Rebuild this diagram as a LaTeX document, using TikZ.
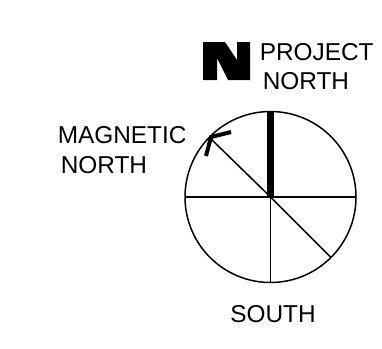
\documentclass[tikz,border=0pt]{standalone}
\usepackage{fontspec}
\setmainfont{Liberation Sans}
\tikzset{lab/.style={font=\fontsize{24.4}{26}\selectfont,align=left,inner sep=0pt,anchor=west}}
\begin{document}
\begin{tikzpicture}[x=1pt,y=-1pt,line width=1.5pt]
\useasboundingbox (0,0) rectangle (382,348);
\coordinate (c) at (270.5,197);
\draw (c) circle (85.5);
\draw (185,197) -- (356,197);
\draw (c) -- (270.5,282.5);
\draw (c) -- (331,257.5);
\draw[line width=7pt] (c) -- (270.5,112);
\draw (c) -- (209,137);
\draw[line width=4pt] (206,156) -- (211,137) -- (231,132);
\fill (203,42) -- (225,42) -- (237,60) -- (237,42) -- (250,42) -- (250,80) -- (228,80) -- (217,58) -- (217,80) -- (203,80) -- cycle;
\node[lab] (p) at (259,52) {PROJECT};
\node[lab] (n) at (262,81) {NORTH};
\node[lab] (m) at (57,135) {MAGNETIC};
\node[lab] (n2) at (60,165) {NORTH};
\node[lab] (s) at (229.5,314.5) {SOUTH};
\end{tikzpicture}
\end{document}
